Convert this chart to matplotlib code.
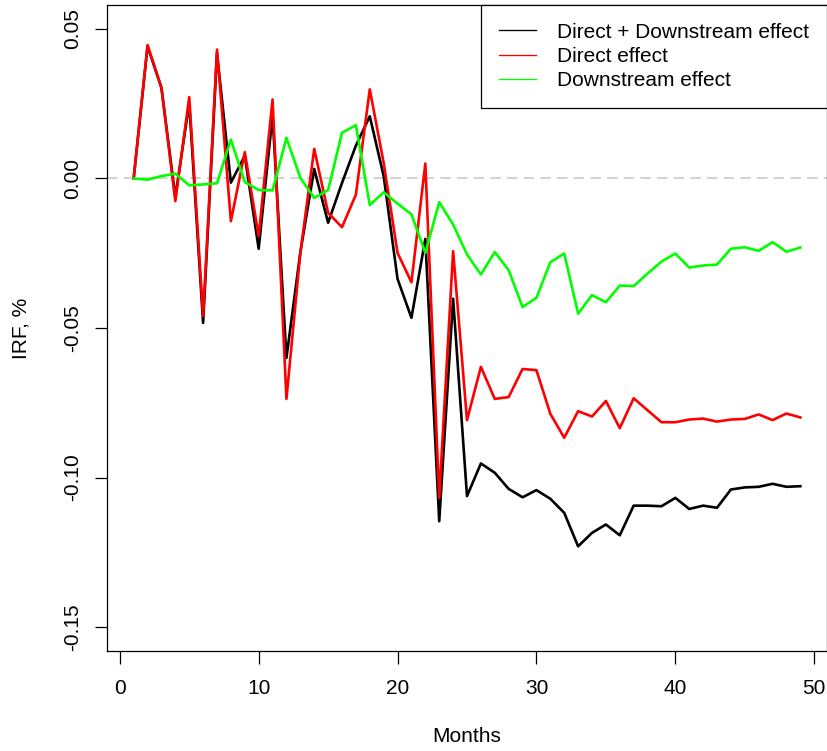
import numpy as np
import matplotlib.pyplot as plt
from matplotlib.lines import Line2D

plt.rcParams['font.family'] = ['Liberation Sans', 'DejaVu Sans']

months = np.arange(1, 50)

total = [0, 0.0442, 0.0303, -0.0062, 0.0252, -0.0483, 0.0418, -0.0014, 0.0076, -0.0235,
         0.0210, -0.0600, -0.0247, 0.0032, -0.0148, -0.0015, 0.0110, 0.0208, 0.0008, -0.0336,
         -0.0466, -0.0202, -0.1146, -0.0402, -0.1062, -0.0953, -0.0984, -0.1038, -0.1066, -0.1042,
         -0.1071, -0.1118, -0.1230, -0.1185, -0.1157, -0.1193, -0.1094, -0.1094, -0.1096, -0.1068,
         -0.1105, -0.1094, -0.1101, -0.1040, -0.1033, -0.1031, -0.1021, -0.1031, -0.1029]

direct = [0, 0.0446, 0.0303, -0.0076, 0.0272, -0.0460, 0.0431, -0.0143, 0.0088, -0.0193,
          0.0264, -0.0737, -0.0249, 0.0099, -0.0115, -0.0163, -0.0054, 0.0298, 0.0052, -0.0249,
          -0.0347, 0.0050, -0.1068, -0.0243, -0.0808, -0.0630, -0.0737, -0.0731, -0.0637, -0.0641,
          -0.0787, -0.0867, -0.0778, -0.0796, -0.0744, -0.0835, -0.0735, -0.0775, -0.0815, -0.0815,
          -0.0806, -0.0803, -0.0813, -0.0806, -0.0804, -0.0789, -0.0808, -0.0786, -0.0799]

downstream = [0, -0.0004, 0.0008, 0.0016, -0.0023, -0.0020, -0.0016, 0.0130, -0.0012, -0.0039,
              -0.0040, 0.0136, 0.0002, -0.0065, -0.0039, 0.0153, 0.0178, -0.0089, -0.0046, -0.0084,
              -0.0120, -0.0249, -0.0079, -0.0154, -0.0254, -0.0321, -0.0246, -0.0307, -0.0430, -0.0399,
              -0.0280, -0.0251, -0.0452, -0.0390, -0.0414, -0.0358, -0.0360, -0.0318, -0.0278, -0.0251,
              -0.0298, -0.0291, -0.0288, -0.0235, -0.0230, -0.0242, -0.0213, -0.0245, -0.0231]

labels = ['Direct + Downstream effect', 'Direct effect', 'Downstream effect']
colors = ['black', '#FF0000', '#00FF00']

fig = plt.figure(figsize=(8.28, 7.51), dpi=100)
ax = fig.add_axes([107/828, 100/751, 720/828, 646/751])

ax.axhline(0, color='lightgray', lw=1.5, dashes=(5, 3), zorder=1)
ax.plot(months, total, color=colors[0], lw=1.9, zorder=2)
ax.plot(months, direct, color=colors[1], lw=1.9, zorder=3)
ax.plot(months, downstream, color=colors[2], lw=1.9, zorder=4)

ax.set_xlim(-0.92, 50.92)
ax.set_ylim(-0.158, 0.058)
ax.set_xticks([0, 10, 20, 30, 40, 50])
ax.set_yticks([-0.15, -0.10, -0.05, 0.00, 0.05])
ax.set_yticklabels(['-0.15', '-0.10', '-0.05', '0.00', '0.05'])
ax.tick_params(direction='out', length=9, width=0.9, labelsize=15, pad=9)
ax.tick_params(axis='x', pad=11)
plt.setp(ax.get_yticklabels(), rotation=90, va='center')
for s in ax.spines.values():
    s.set_linewidth(0.9)

fig.text(467/828, 1 - 737/751, 'Months', ha='center', va='center', fontsize=15)
fig.text(21/828, 1 - 328/751, 'IRF, %', ha='center', va='center', rotation=90, fontsize=15)

handles = [Line2D([], [], color=c, lw=0.95) for c in colors]
leg = ax.legend(handles, labels, loc='upper right', borderaxespad=0, fontsize=15,
                frameon=True, fancybox=False, edgecolor='black', framealpha=1,
                borderpad=0.85, handlelength=1.8, handletextpad=1.0, labelspacing=0.25)
leg.get_frame().set_linewidth(0.9)

fig.savefig('out.png', dpi=100)
